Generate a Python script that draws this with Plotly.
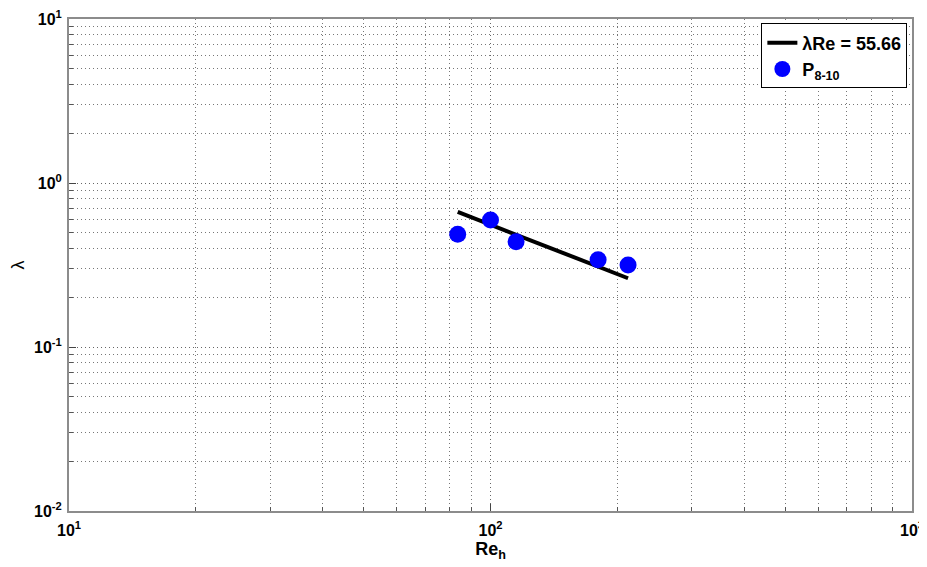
import plotly.graph_objects as go

# Data
re_h = [83.6, 100, 115, 180, 212]
lam = [0.487, 0.595, 0.439, 0.340, 0.316]
fit_re = [83.6, 212]
fit_lam = [0.666, 0.2625]

x_tickvals = [10, 100, 1000]
x_ticktext = ["<b>10<sup>1</sup></b>", "<b>10<sup>2</sup></b>", "<b>10<sup>3</sup></b>"]
y_tickvals = [0.01, 0.1, 1, 10]
y_ticktext = ["<b>10<sup>-2</sup></b>", "<b>10<sup>-1</sup></b>", "<b>10<sup>0</sup></b>", "<b>10<sup>1</sup></b>"]

x_minor = [m * 10 ** d for d in (1, 2) for m in range(2, 10)]
y_minor = [m * 10 ** d for d in (-2, -1, 0) for m in range(2, 10)]

fig = go.Figure()
fig.add_trace(go.Scatter(x=fit_re, y=fit_lam, mode="lines",
                         line=dict(color="black", width=4),
                         name="<b>λRe = 55.66</b>"))
fig.add_trace(go.Scatter(x=re_h, y=lam, mode="markers",
                         marker=dict(color="#0000FF", size=17),
                         name="<b>P<sub>8-10</sub></b>"))

def axis_common(minor_vals):
    return dict(
        type="log", showline=True, linecolor="#8c8c8c", linewidth=2, mirror=True,
        ticks="inside", ticklen=7, tickcolor="#444", tickwidth=1,
        showgrid=True, gridcolor="#666", griddash="1px,3px", gridwidth=1,
        zeroline=False, automargin=False, ticklabeloverflow="allow",
        tickfont=dict(family="Liberation Sans, Arial", size=16, color="black"),
        minor=dict(tickvals=minor_vals, ticks="inside", ticklen=4, tickcolor="#555",
                   showgrid=True, gridcolor="#777", griddash="1px,3px", gridwidth=1),
    )

fig.update_xaxes(range=[1, 3], tickvals=x_tickvals, ticktext=x_ticktext,
                 ticklabelstandoff=4,
                 title=dict(text="<b>Re<sub>h</sub></b>", standoff=2,
                            font=dict(family="Liberation Sans, Arial", size=18, color="black")),
                 **axis_common(x_minor))
fig.update_yaxes(range=[-2, 1], tickvals=y_tickvals, ticktext=y_ticktext,
                 ticklabelstandoff=2,
                 title=dict(text="λ", standoff=14,
                            font=dict(family="Liberation Sans, Arial", size=18, color="black")),
                 **axis_common(y_minor))

fig.update_layout(
    width=919, height=559,
    margin=dict(l=61, r=15, t=11, b=56),
    plot_bgcolor="white", paper_bgcolor="white",
    font=dict(family="Liberation Sans, Arial", color="black"),
    legend=dict(x=0.9945, y=0.991, xanchor="right", yanchor="top",
                bgcolor="white", bordercolor="black", borderwidth=1,
                font=dict(family="Liberation Sans, Arial", size=18, color="black"),
                tracegroupgap=0, itemwidth=30),
    showlegend=True,
)

fig.write_html("out.html", config={"displayModeBar": False},
               post_script="document.body.style.overflow='hidden';")
